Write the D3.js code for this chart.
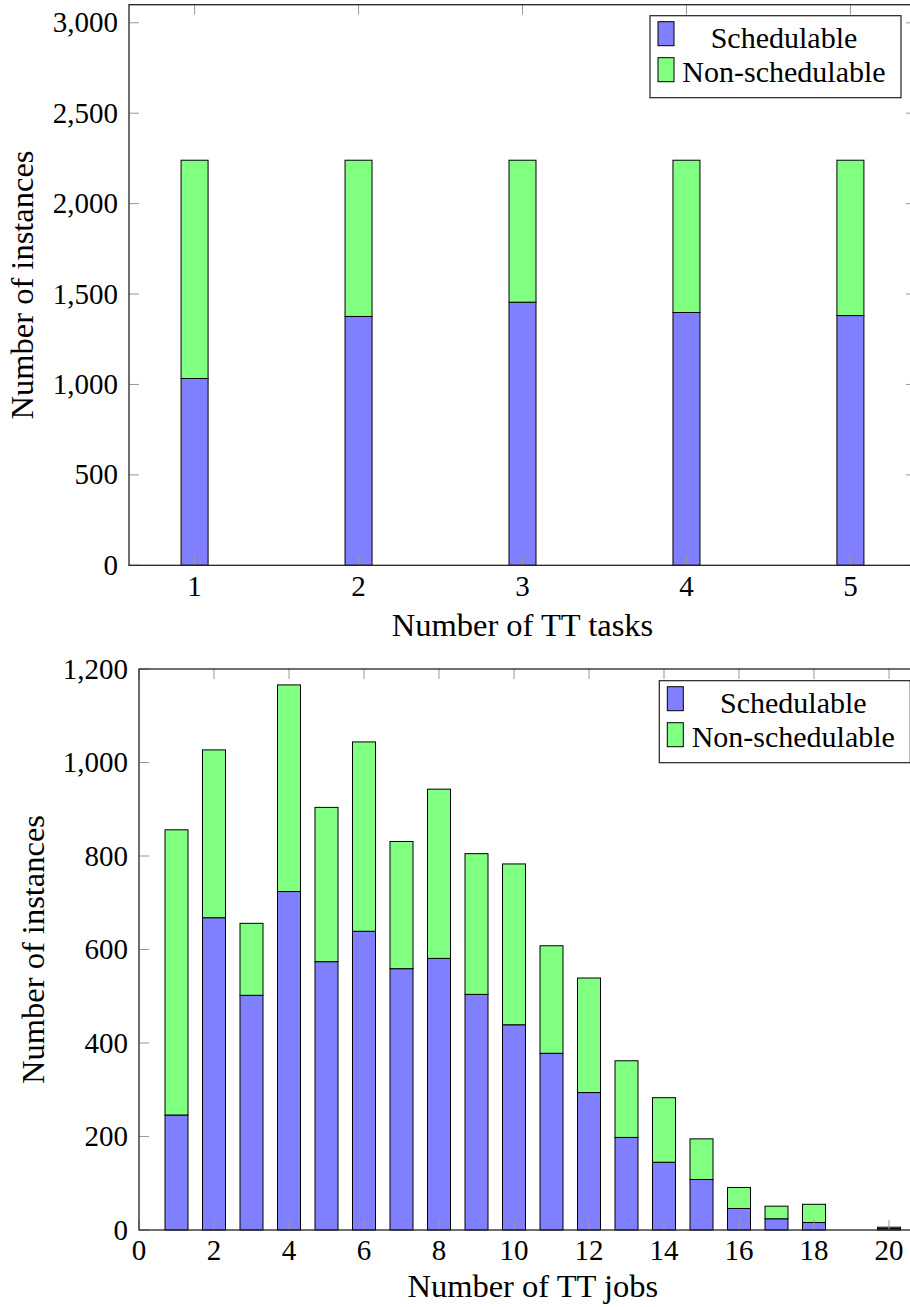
<!DOCTYPE html>
<html>
<head>
<meta charset="utf-8">
<script src="https://cdn.jsdelivr.net/npm/d3@7"></script>
<style>
  body { margin: 0; background: #fff; }
  svg text { font-family: "Liberation Serif", "DejaVu Serif", serif; fill: #000; }
</style>
</head>
<body>
<div id="chart"></div>
<script>
// top chart: number of TT tasks
const taskCounts = [1, 2, 3, 4, 5];
const taskSchedulable = [1033, 1376, 1455, 1398, 1381];
const taskNonSchedulable = [1207, 864, 785, 842, 859];
const taskYTicks = [0, 500, 1000, 1500, 2000, 2500, 3000];

// bottom chart: number of TT jobs
const jobCounts = [1, 2, 3, 4, 5, 6, 7, 8, 9, 10, 11, 12, 13, 14, 15, 16, 17, 18, 19, 20];
const jobSchedulable = [246, 668, 502, 724, 574, 639, 559, 581, 504, 439, 378, 294, 198, 145, 108, 46, 24, 16, 0, 3];
const jobNonSchedulable = [610, 359, 154, 442, 330, 405, 272, 362, 301, 344, 230, 245, 164, 138, 87, 45, 27, 39, 0, 3];
const jobXTicks = [0, 2, 4, 6, 8, 10, 12, 14, 16, 18, 20];
const jobYTicks = [0, 200, 400, 600, 800, 1000, 1200];

const seriesNames = ["Schedulable", "Non-schedulable"];
const seriesColors = ["#8080ff", "#80ff80"];

const W = 910, H = 1307;
const svg = d3.select("#chart").append("svg")
    .attr("width", W)
    .attr("height", H);

drawChart({
    cats: taskCounts, s1: taskSchedulable, s2: taskNonSchedulable,
    xDomain: [0.6, 5.4], yDomain: [0, 3100],
    xTicks: taskCounts, yTicks: taskYTicks,
    left: 129, top: 4.7, right: 916, bottom: 565.3,
    barWidth: 27,
    yLabelX: 33, xTickY: 596, xLabelY: 636,
    xLabel: "Number of TT tasks",
    legendX: 650, legendY: 15.7
});

drawChart({
    cats: jobCounts, s1: jobSchedulable, s2: jobNonSchedulable,
    xDomain: [0, 21], yDomain: [0, 1200],
    xTicks: jobXTicks, yTicks: jobYTicks,
    left: 139, top: 669, right: 926.5, bottom: 1230,
    barWidth: 23,
    yLabelX: 44, xTickY: 1260, xLabelY: 1297,
    xLabel: "Number of TT jobs",
    legendX: 659.3, legendY: 680.7
});

function drawChart(c) {
    const rows = c.cats.map((k, i) => ({ cat: k, Schedulable: c.s1[i], "Non-schedulable": c.s2[i] }));
    const stacked = d3.stack().keys(seriesNames)(rows);

    const x = d3.scaleLinear().domain(c.xDomain).range([c.left, c.right]);
    const y = d3.scaleLinear().domain(c.yDomain).range([c.bottom, c.top]);

    const g = svg.append("g");

    // bars
    g.selectAll("g.series")
        .data(stacked)
        .enter().append("g")
        .attr("fill", (d, i) => seriesColors[i])
        .selectAll("rect")
        .data(d => d.filter(p => p[1] - p[0] > 0))
        .enter().append("rect")
        .attr("x", d => x(d.data.cat) - c.barWidth / 2)
        .attr("y", d => y(d[1]))
        .attr("width", c.barWidth)
        .attr("height", d => y(d[0]) - y(d[1]))
        .attr("stroke", "#000")
        .attr("stroke-width", 1);

    // ticks, inward on all four sides
    const tickLen = 10;
    const tk = g.append("g").attr("stroke", "#999").attr("stroke-width", 1);
    c.xTicks.forEach(t => {
        tk.append("line").attr("x1", x(t)).attr("x2", x(t)).attr("y1", c.bottom).attr("y2", c.bottom - tickLen);
        tk.append("line").attr("x1", x(t)).attr("x2", x(t)).attr("y1", c.top).attr("y2", c.top + tickLen);
    });
    c.yTicks.forEach(t => {
        tk.append("line").attr("x1", c.left).attr("x2", c.left + tickLen).attr("y1", y(t)).attr("y2", y(t));
        tk.append("line").attr("x1", c.right).attr("x2", c.right - tickLen).attr("y1", y(t)).attr("y2", y(t));
    });

    // frame
    g.append("rect")
        .attr("x", c.left).attr("y", c.top)
        .attr("width", c.right - c.left).attr("height", c.bottom - c.top)
        .attr("fill", "none").attr("stroke", "#222").attr("stroke-width", 1.3);

    // tick labels
    const fmt = d3.format(",");
    g.selectAll("text.ytick")
        .data(c.yTicks)
        .enter().append("text")
        .attr("x", c.left - 11)
        .attr("y", d => y(d))
        .attr("dy", "0.33em")
        .attr("text-anchor", "end")
        .attr("font-size", 29)
        .text(d => fmt(d));

    g.selectAll("text.xtick")
        .data(c.xTicks)
        .enter().append("text")
        .attr("x", d => x(d))
        .attr("y", c.xTickY)
        .attr("text-anchor", "middle")
        .attr("font-size", 29)
        .text(d => d);

    // axis labels
    g.append("text")
        .attr("x", (c.left + c.right) / 2)
        .attr("y", c.xLabelY)
        .attr("text-anchor", "middle")
        .attr("font-size", 32.5)
        .text(c.xLabel);

    g.append("text")
        .attr("transform", "translate(" + c.yLabelX + "," + (c.top + c.bottom) / 2 + ")rotate(-90)")
        .attr("text-anchor", "middle")
        .attr("font-size", 32.5)
        .text("Number of instances");

    // legend
    const lg = g.append("g").attr("transform", "translate(" + c.legendX + "," + c.legendY + ")");
    lg.append("rect")
        .attr("width", 251).attr("height", 82)
        .attr("fill", "#fff").attr("stroke", "#222").attr("stroke-width", 1.2);
    seriesNames.forEach((name, i) => {
        lg.append("rect")
            .attr("x", 8).attr("y", 6 + i * 36)
            .attr("width", 16).attr("height", 24)
            .attr("fill", seriesColors[i])
            .attr("stroke", "#000").attr("stroke-width", 1);
        lg.append("text")
            .attr("x", 134).attr("y", 32 + i * 34)
            .attr("text-anchor", "middle")
            .attr("font-size", 30)
            .text(name);
    });
}
</script>
</body>
</html>
